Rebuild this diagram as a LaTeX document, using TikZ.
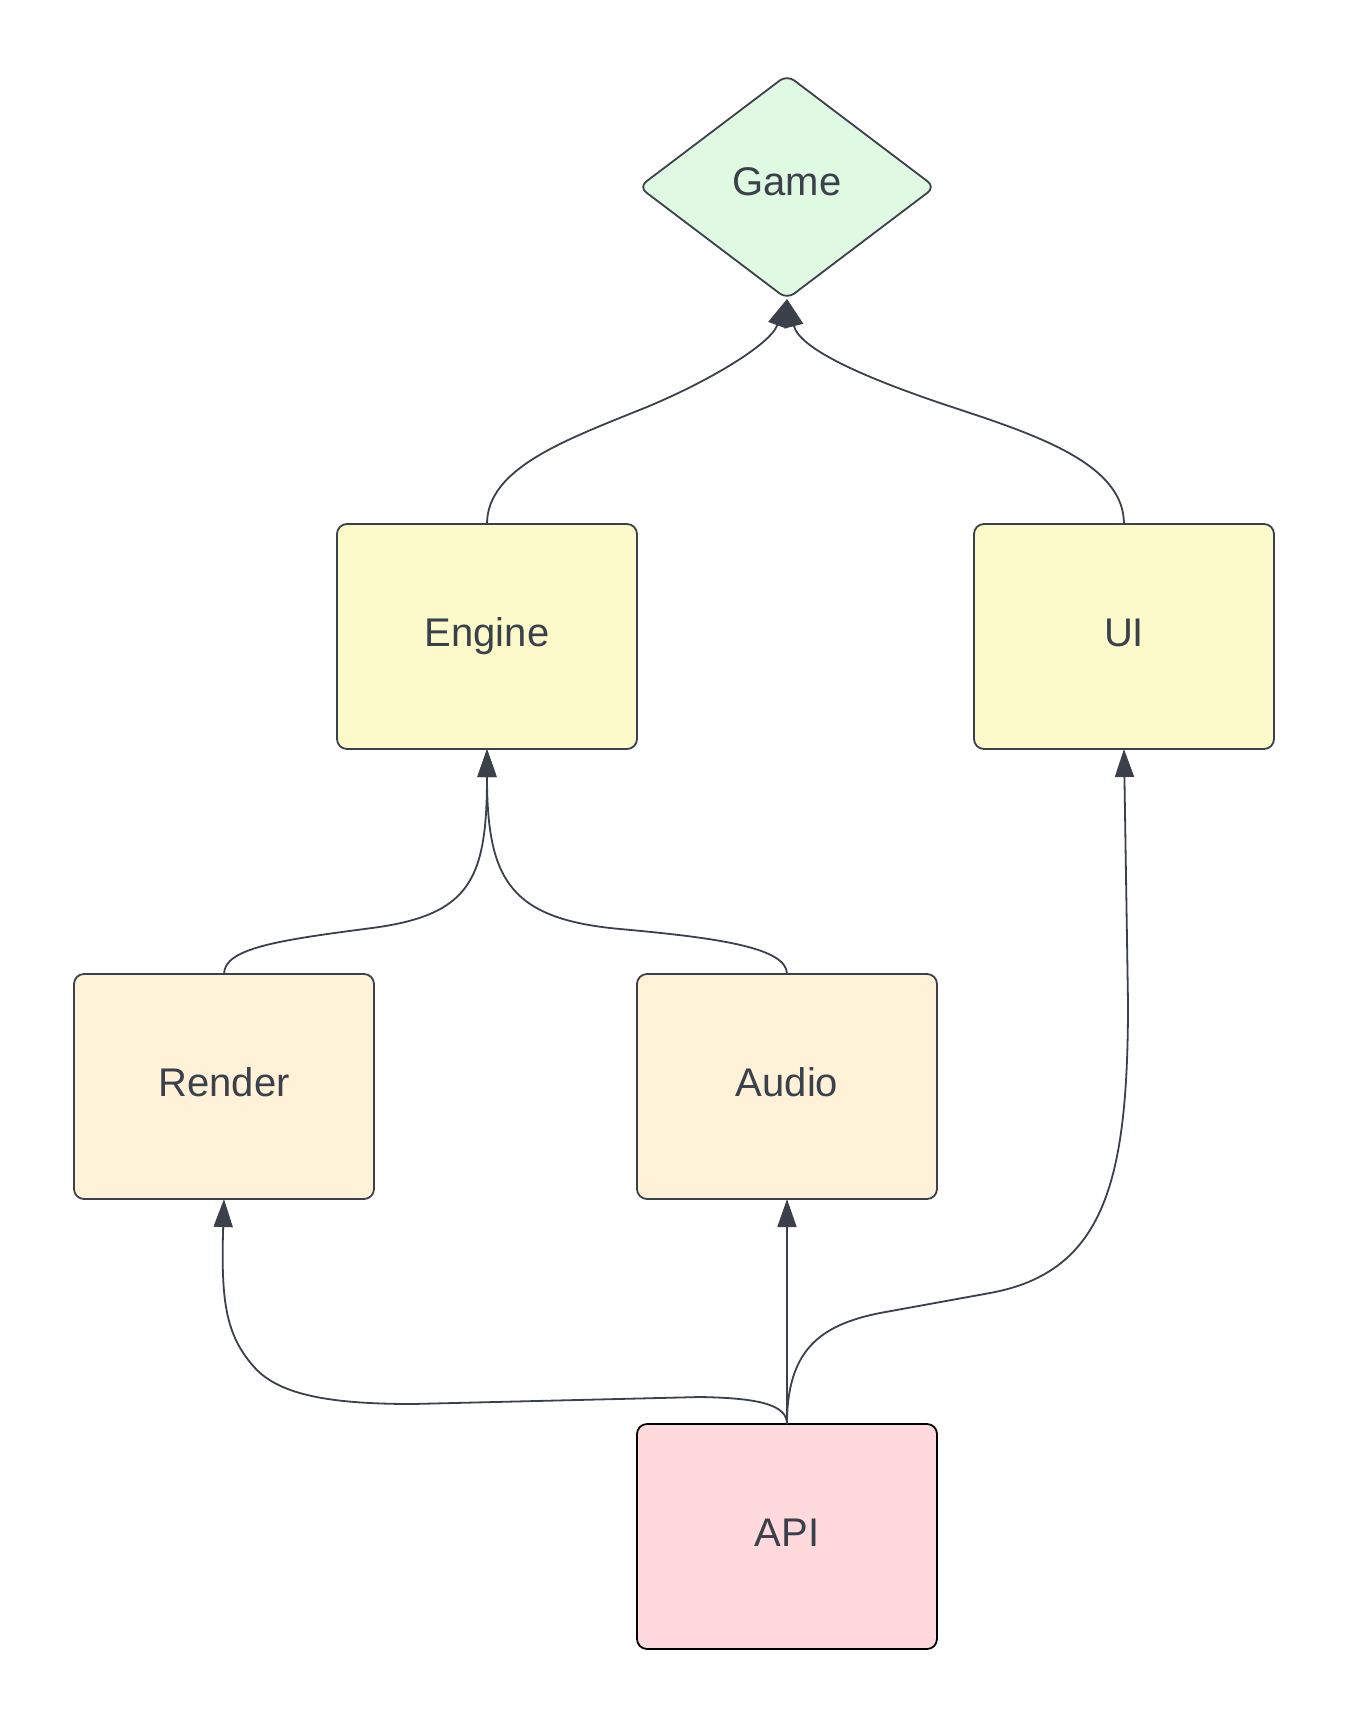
\documentclass[tikz,border=0pt]{standalone}
\usepackage{fontspec}
\setmainfont{Liberation Sans}
\usetikzlibrary{arrows.meta,shapes.geometric}
\definecolor{ink}{HTML}{3A414A}
\definecolor{yelfill}{HTML}{FCFACA}
\definecolor{creamfill}{HTML}{FFF2D9}
\definecolor{pinkfill}{HTML}{FFD9DB}
\definecolor{mintfill}{HTML}{E0F9E2}
\begin{document}
\begin{tikzpicture}[x=1pt,y=-1pt,
  lbl/.style={text=ink, font=\fontsize{40}{48}\selectfont, text height=29pt, text depth=10pt},
  box/.style={lbl, draw=ink, line width=1.8pt, rounded corners=10pt, minimum width=300pt, minimum height=225pt, inner sep=0pt, outer sep=0pt},
  link/.style={draw=ink, line width=1.8pt, -{Triangle[length=28pt,width=19pt]}}]
\useasboundingbox (0,0) rectangle (1350,1725);
\fill[white] (0,0) rectangle (1350,1725);

\node[lbl, text depth=13pt, shape=diamond, draw=ink, fill=mintfill, line width=1.8pt, rounded corners=9pt,
      minimum width=296pt, minimum height=224pt, inner sep=0pt, outer sep=0pt] (game) at (787,187) {Game};
\node[box, fill=yelfill] (engine) at (487,636.5) {Engine};
\node[box, fill=yelfill] (ui) at (1124,636.5) {UI};
\node[box, fill=creamfill] (render) at (224,1086.5) {Render};
\node[box, fill=creamfill] (audio) at (787,1086.5) {Audio};
\node[box, fill=pinkfill, draw=black] (api) at (787,1536.5) {API};

\draw[link] (engine.north) .. controls (487,470) and (560,442) .. (637,411)
  .. controls (705,384) and (770,345) .. (game.south);
\draw[link] (ui.north) .. controls (1124,465) and (1040,436) .. (955,408)
  .. controls (870,380) and (800,350) .. (game.south);
\draw[link] (render.north) .. controls (224,948) and (280,940) .. (372,928)
  .. controls (470,915) and (487,880) .. (engine.south);
\draw[link] (audio.north) .. controls (787,948) and (720,938) .. (620,929)
  .. controls (510,919) and (487,880) .. (engine.south);
\draw[link] (api.north) .. controls (787,1405) and (760,1398) .. (700,1397) -- (413,1404)
  .. controls (330,1404) and (280,1395) .. (255,1368)
  .. controls (225,1335) and (221,1300) .. (render.south);
\draw[link] (api.north) -- (audio.south);
\draw[link] (api.north) .. controls (787,1350) and (820,1325) .. (880,1313) -- (990,1293)
  .. controls (1105,1272) and (1128,1180) .. (1128,1003) -- (ui.south);
\end{tikzpicture}
\end{document}
